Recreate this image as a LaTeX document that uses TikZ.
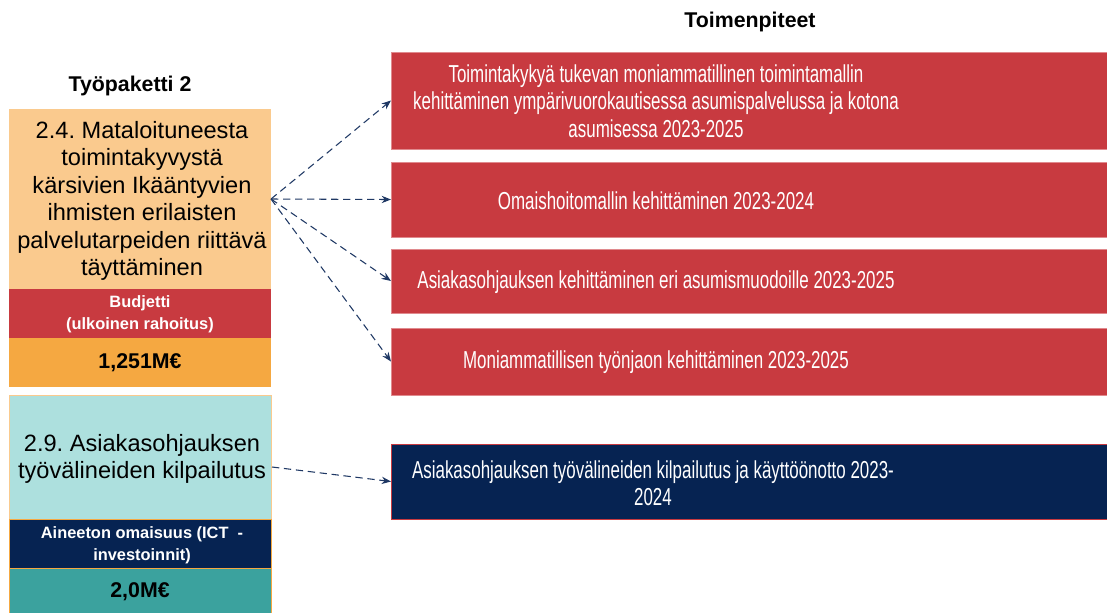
\documentclass[tikz,border=0pt]{standalone}
\usepackage{fontspec}
\setmainfont{Liberation Sans}
\newfontfamily\condfont[FakeStretch=0.69]{Liberation Sans}
\usetikzlibrary{arrows.meta}
\frenchspacing
\definecolor{lorange}{HTML}{FACA8E}
\definecolor{dorange}{HTML}{F5A841}
\definecolor{bred}{HTML}{C83A40}
\definecolor{lteal}{HTML}{ADE0DE}
\definecolor{dteal}{HTML}{3BA29E}
\definecolor{navy}{HTML}{062352}
\definecolor{arrowc}{HTML}{1F3864}
\definecolor{pinkedge}{HTML}{E08A8E}
\begin{document}
\begin{tikzpicture}[x=0.75pt,y=-0.75pt,
  box/.style={rectangle, inner sep=0pt, outer sep=0pt},
  lbox/.style={box, minimum width=196.5pt},
  rbox/.style={box, minimum width=543pt, draw=pinkedge, line width=0.6pt},
  ltext/.style={align=center, font=\fontsize{17.7}{20.6}\selectfont},
  stext/.style={align=center, text=white, font=\bfseries\fontsize{12.3}{16.5}\selectfont},
  mtext/.style={align=center, font=\bfseries\fontsize{16}{19}\selectfont},
  rtext/.style={align=center, text=white, font=\condfont\fontsize{18.4}{20.6}\selectfont},
  head/.style={font=\bfseries\fontsize{16}{19}\selectfont},
  conn/.style={draw=arrowc, line width=0.8pt, dash pattern=on 5.5pt off 3.5pt, -{Stealth[length=7pt,width=5.5pt]}}]
\useasboundingbox (0,0) rectangle (1107,612);
% headings
\node[head] (h1) at (750,22) {Toimenpiteet};
\node[head] (h2) at (130,86) {Työpaketti 2};
% left column 1
\node[lbox, fill=lorange, minimum height=135pt] (o1) at (140,199) {};
\node[ltext] (o1t) at (142,201) {2.4. Mataloituneesta\\toimintakyvystä\\kärsivien Ikääntyvien\\ihmisten erilaisten\\palvelutarpeiden riittävä\\täyttäminen};
\node[lbox, fill=bred, minimum height=36.75pt] (r1) at (140,313.5) {};
\node[stext] (r1t) at (140,314) {Budjetti\\(ulkoinen rahoitus)};
\node[lbox, fill=dorange, minimum height=36.75pt] (o2) at (140,362.5) {};
\node[mtext] (o2t) at (140,363) {1,251M€};
% left column 2
\node[lbox, fill=lteal, draw=lorange, line width=0.6pt, minimum height=93pt] (t1) at (140,457) {};
\node[ltext] (t1t) at (142,459) {2.9. Asiakasohjauksen\\työvälineiden kilpailutus};
\node[lbox, fill=navy, draw=dorange, line width=0.6pt, minimum height=36.75pt] (n1) at (140,543.5) {};
\node[stext] (n1t) at (142,545) {Aineeton omaisuus (ICT\ \ -\\investoinnit)};
\node[lbox, fill=dteal, draw=dorange, line width=0.6pt, minimum height=36.75pt] (t2) at (140,593) {};
\node[mtext] (t2t) at (140,592) {2,0M€};
% right boxes
\node[rbox, fill=bred, minimum height=72.75pt] (a1) at (753,100.5) {};
\node[rtext] (a1t) at (656,101) {Toimintakykyä tukevan moniammatillinen toimintamallin\\kehittäminen ympärivuorokautisessa asumispalvelussa ja kotona\\asumisessa 2023-2025};
\node[rbox, fill=bred, minimum height=56.25pt] (a2) at (753,199.5) {};
\node[rtext] (a2t) at (656,201) {Omaishoitomallin kehittäminen 2023-2024};
\node[rbox, fill=bred, minimum height=48pt] (a3) at (753,281) {};
\node[rtext] (a3t) at (656,282) {Asiakasohjauksen kehittäminen eri asumismuodoille 2023-2025};
\node[rbox, fill=bred, minimum height=50.25pt] (a4) at (753,361.5) {};
\node[rtext] (a4t) at (656,362) {Moniammatillisen työnjaon kehittäminen 2023-2025};
\node[rbox, fill=navy, draw=bred, minimum height=56.25pt] (b1) at (753,481.5) {};
\node[rtext] (b1t) at (653,483) {Asiakasohjauksen työvälineiden kilpailutus ja käyttöönotto 2023-\\2024};
% connectors
\coordinate (t1out) at (272,467);
\draw[conn] (o1.east) -- (a1.west);
\draw[conn] (o1.east) -- (a2.west);
\draw[conn] (o1.east) -- (a3.west);
\draw[conn] (o1.east) -- (a4.west);
\draw[conn] (t1out) -- (b1.west);
\end{tikzpicture}
\end{document}
